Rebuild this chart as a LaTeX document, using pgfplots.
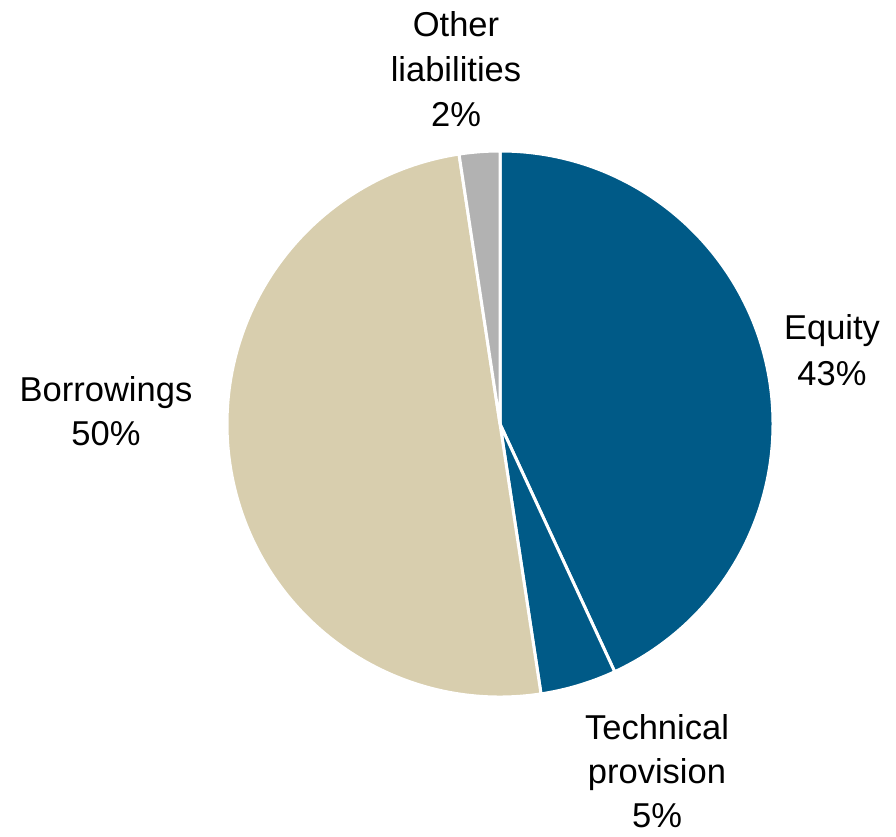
\documentclass[border=0pt]{standalone}
\usepackage{fontspec}
\setmainfont{Liberation Sans}
\usepackage{pgfplots}
\usepackage{pgfplotstable}
\pgfplotsset{compat=1.18}
\definecolor{eqblue}{HTML}{005A87}
\definecolor{beige}{HTML}{D8CEAE}
\definecolor{greyc}{HTML}{B2B2B2}
\pgfplotstableread{
label value
Equity 43.1
Technical 4.5
Borrowings 50.0
Other 2.4
}\piedata
\newcommand{\lab}{\fontsize{34.5}{45}\selectfont}
\begin{document}%
\begin{tikzpicture}
\pgfplotstablegetelem{0}{value}\of\piedata \global\let\vA\pgfplotsretval
\pgfplotstablegetelem{1}{value}\of\piedata \global\let\vB\pgfplotsretval
\pgfplotstablegetelem{2}{value}\of\piedata \global\let\vC\pgfplotsretval
\pgfplotstablegetelem{3}{value}\of\piedata \global\let\vD\pgfplotsretval
\pgfmathsetmacro{\aA}{90}\global\let\aA\aA
\pgfmathsetmacro{\aB}{\aA-3.6*\vA}\global\let\aB\aB
\pgfmathsetmacro{\aC}{\aB-3.6*\vB}\global\let\aC\aC
\pgfmathsetmacro{\aD}{\aC-3.6*\vC}\global\let\aD\aD
\pgfmathsetmacro{\aE}{\aD-3.6*\vD}\global\let\aE\aE
\begin{axis}[hide axis, scale only axis, x=1pt, y=1pt, xmin=0, xmax=896, ymin=0, ymax=837, clip=false, anchor=south west, at={(0pt,0pt)}]
\filldraw[fill=eqblue, draw=white, line width=3pt, line join=round] (axis cs:500,413) -- ++(\aA:273pt) arc[start angle=\aA, end angle=\aB, radius=273pt] -- cycle;
\filldraw[fill=eqblue, draw=white, line width=3pt, line join=round] (axis cs:500,413) -- ++(\aB:273pt) arc[start angle=\aB, end angle=\aC, radius=273pt] -- cycle;
\filldraw[fill=beige, draw=white, line width=3pt, line join=round] (axis cs:500,413) -- ++(\aC:273pt) arc[start angle=\aC, end angle=\aD, radius=273pt] -- cycle;
\filldraw[fill=greyc, draw=white, line width=3pt, line join=round] (axis cs:500,413) -- ++(\aD:273pt) arc[start angle=\aD, end angle=\aE, radius=273pt] -- cycle;
\node[anchor=base, font=\lab, inner sep=0pt] at (axis cs:456,800) {Other};
\node[anchor=base, font=\lab, inner sep=0pt] at (axis cs:456,755) {liabilities};
\node[anchor=base, font=\lab, inner sep=0pt] at (axis cs:456,710) {2\%};
\node[anchor=base, font=\lab, inner sep=0pt] at (axis cs:832,497) {Equity};
\node[anchor=base, font=\lab, inner sep=0pt] at (axis cs:832,451) {43\%};
\node[anchor=base, font=\lab, inner sep=0pt] at (axis cs:106,435) {Borrowings};
\node[anchor=base, font=\lab, inner sep=0pt] at (axis cs:106,391) {50\%};
\node[anchor=base, font=\lab, inner sep=0pt] at (axis cs:657,97) {Technical};
\node[anchor=base, font=\lab, inner sep=0pt] at (axis cs:657,53) {provision};
\node[anchor=base, font=\lab, inner sep=0pt] at (axis cs:657,9) {5\%};
\end{axis}
\pgfresetboundingbox
\path[use as bounding box] (0pt,0pt) rectangle (896pt,837pt);
\end{tikzpicture}%
\end{document}
